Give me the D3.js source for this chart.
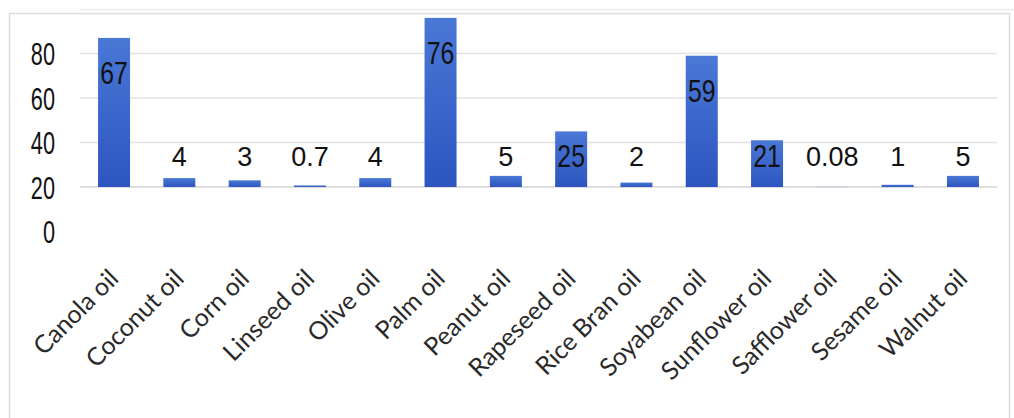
<!DOCTYPE html>
<html>
<head>
<meta charset="utf-8">
<script src="https://cdn.jsdelivr.net/npm/d3@7"></script>
<style>
  body { margin: 0; background: #fff; }
  svg { display: block; }
</style>
</head>
<body>
<div id="chart"></div>
<script>
// oils and their values
var oils = ["Canola oil", "Coconut oil", "Corn oil", "Linseed oil", "Olive oil", "Palm oil",
  "Peanut oil", "Rapeseed oil", "Rice Bran oil", "Soyabean oil", "Sunflower oil",
  "Safflower oil", "Sesame oil", "Walnut oil"];
var amounts = [67, 4, 3, 0.7, 4, 76, 5, 25, 2, 59, 21, 0.08, 1, 5];
var valueLabels = ["67", "4", "3", "0.7", "4", "76", "5", "25", "2", "59", "21", "0.08", "1", "5"];
// the axis labels in the picture sit one grid step below their lines
var gridValues = [0, 20, 40, 60];
var yTickValues = [60, 40, 20, 0, -20];
var yTickLabels = ["80", "60", "40", "20", "0"];

var w = 1014, h = 418;
var svg = d3.select("#chart").append("svg").attr("width", w).attr("height", h);

var defs = svg.append("defs");
var grad = defs.append("linearGradient").attr("id", "barGrad")
  .attr("x1", 0).attr("y1", 0).attr("x2", 0).attr("y2", 1);
grad.append("stop").attr("offset", "0%").attr("stop-color", "#4a78d6");
grad.append("stop").attr("offset", "100%").attr("stop-color", "#2d55bf");

// outer frame
svg.append("rect").attr("x", 9.5).attr("y", 13.5).attr("width", 1000).attr("height", 420)
  .attr("fill", "none").attr("stroke", "#dcdcdc").attr("stroke-width", 1.5);
svg.append("line").attr("x1", 80).attr("x2", 1014).attr("y1", 9.5).attr("y2", 9.5)
  .attr("stroke", "#ececec").attr("stroke-width", 1.5);

var x = d3.scaleBand().domain(oils).range([81.4, 995.6]).paddingInner(0.51).paddingOuter(0.255);
var y = d3.scaleLinear().domain([0, 80]).range([187, 9]);

// grid
svg.append("g").attr("class", "grid").selectAll("line")
  .data(gridValues)
  .enter().append("line")
  .attr("x1", 80).attr("x2", 997)
  .attr("y1", function(d) { return y(d); })
  .attr("y2", function(d) { return y(d); })
  .attr("stroke", function(d) { return d == 0 ? "#d4d4d4" : "#e2e2e2"; })
  .attr("stroke-width", 1.6);

// bars
svg.append("g").selectAll("rect")
  .data(amounts)
  .enter().append("rect")
  .attr("x", function(d, i) { return x(oils[i]); })
  .attr("y", function(d) { return y(d); })
  .attr("width", x.bandwidth())
  .attr("height", function(d) { return y(0) - y(d); })
  .attr("fill", "url(#barGrad)");

// value labels
svg.append("g").selectAll("text")
  .data(amounts)
  .enter().append("text")
  .attr("text-anchor", "middle")
  .attr("dominant-baseline", "central")
  .attr("font-family", "'Liberation Sans', Arial, sans-serif")
  .attr("fill", "#111")
  .each(function(d, i) {
    var cx = x(oils[i]) + x.bandwidth() / 2;
    var inside = y(d) + 36 < y(0) - 30;
    var cy = inside ? y(d) + 36 : y(0) - 30;
    var t = d3.select(this).text(valueLabels[i]);
    if (d > 20) {
      t.attr("font-size", 31).attr("transform", "translate(" + cx + "," + cy + ") scale(0.8,1)");
    } else {
      t.attr("font-size", 27).attr("transform", "translate(" + cx + "," + cy + ")");
    }
  });

// y axis
var yAxis = d3.axisLeft(y).tickValues(yTickValues).tickSize(0)
  .tickFormat(function(d, i) { return yTickLabels[i]; });
var yg = svg.append("g").attr("transform", "translate(55,0)").call(yAxis);
yg.select(".domain").remove();
yg.selectAll("text")
  .attr("x", 0).attr("dy", "0.36em")
  .attr("font-size", 31)
  .attr("font-family", "'Liberation Sans', Arial, sans-serif")
  .attr("fill", "#111")
  .attr("transform", "scale(0.7,1)");

// x axis
var xAxis = d3.axisBottom(x).tickSize(0);
var xg = svg.append("g").attr("transform", "translate(0,280)").call(xAxis);
xg.select(".domain").remove();
xg.selectAll("text")
  .attr("x", 0).attr("y", 0).attr("dy", 0)
  .attr("text-anchor", "end")
  .attr("font-size", 25)
  .attr("font-family", "Lato, 'Open Sans', sans-serif")
  .attr("fill", "#2a2a2a")
  .attr("transform", "translate(6,0) rotate(-45)");
</script>
</body>
</html>
